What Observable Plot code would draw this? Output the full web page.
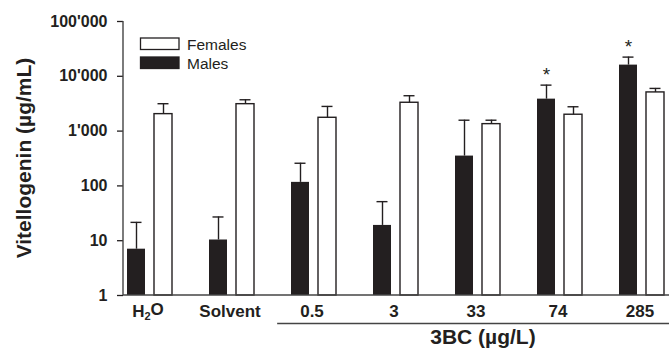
<!DOCTYPE html>
<html>
<head>
<meta charset="utf-8">
<script src="https://cdn.jsdelivr.net/npm/d3@7"></script>
<script src="https://cdn.jsdelivr.net/npm/@observablehq/plot@0.6"></script>
<style>
  body { margin: 0; background: #fff; }
  #chart { width: 669px; height: 356px; }
  #chart svg { overflow: visible; }
</style>
</head>
<body>
<div id="chart"></div>
<script>
// Treatment groups (controls, then 3BC exposure concentrations in µg/L)
const groups = ["H2O", "Solvent", "0.5", "3", "33", "74", "285"];
const sexes = ["Males", "Females"];

// Plasma vitellogenin, µg/mL (mean and upper end of error bar)
const maleMean    = [7.0, 10.3, 116, 19, 350, 3830, 16000];
const maleUpper   = [21.6, 27.1, 259, 51.6, 1580, 6900, 22400];
const femaleMean  = [2040, 3100, 1750, 3290, 1340, 1990, 5080];
const femaleUpper = [3160, 3730, 2820, 4420, 1580, 2780, 6010];
// Significant difference from controls (males)
const maleSignificant = [false, false, false, false, false, true, true];

const yTicks = [1, 10, 100, 1000, 10000, 100000];
const exposedGroups = ["0.5", "3", "33", "74", "285"];

const ink = "#231f20";
const font = "'Liberation Sans', Arial, Helvetica, sans-serif";

const data = groups.flatMap((g, i) => [
  {group: g, sex: "Males", value: maleMean[i], upper: maleUpper[i], sig: maleSignificant[i]},
  {group: g, sex: "Females", value: femaleMean[i], upper: femaleUpper[i], sig: false}
]);

const formatTick = d => d3.format(",")(d).replace(/,/g, "'");

const chart = Plot.plot({
  width: 669,
  height: 356,
  marginTop: 21,
  marginBottom: 61,
  marginLeft: 123,
  marginRight: 0,
  style: {fontFamily: font, fontSize: "16px", color: ink, background: "white"},
  fx: {domain: groups, paddingInner: 0.4, paddingOuter: 0.017, align: 0, label: null},
  x: {domain: sexes, paddingInner: 0.345, paddingOuter: 0.071, align: 1, axis: null},
  y: {type: "log", domain: [1, 100000], label: null},
  marks: [
    Plot.axisY(yTicks, {
      tickFormat: formatTick, tickSize: 6, tickPadding: 10,
      fontSize: 16, fontWeight: "bold", label: null, strokeWidth: 1.3
    }),
    Plot.axisFx({anchor: "bottom", tickSize: 0, tickPadding: 9, fontSize: 17, fontWeight: "bold", label: null}),
    // Males: solid bars
    Plot.barY(data, {
      filter: d => d.sex === "Males",
      fx: "group", x: "sex", y1: 1, y2: "value", fill: ink
    }),
    // Females: open bars
    Plot.barY(data, {
      filter: d => d.sex === "Females",
      fx: "group", x: "sex", y1: 1, y2: "value",
      fill: "white", stroke: ink, strokeWidth: 1.4
    }),
    // Upward error bars with caps
    Plot.ruleX(data, {fx: "group", x: "sex", y1: "value", y2: "upper", stroke: ink, strokeWidth: 1.4}),
    Plot.tickY(data, {fx: "group", x: "sex", y: "upper", insetLeft: 3.5, insetRight: 3.5, stroke: ink, strokeWidth: 1.4}),
    // Significance markers
    Plot.text(data, {
      filter: d => d.sig,
      fx: "group", x: "sex", y: "upper", text: () => "*",
      fontSize: 19, fill: ink, dy: -10
    })
  ]
});

document.getElementById("chart").appendChild(chart);

const svg = d3.select(chart);
const fx = chart.scale("fx");
const y = chart.scale("y");
const yBase = y.apply(1);
const yTop = y.apply(100000);
const left = 123, right = 669;

// Write the water label with a lowered subscript 2
svg.selectAll("text").filter(function () { return this.textContent === "H2O"; })
  .each(function () {
    const t = d3.select(this);
    t.text(null);
    t.append("tspan").text("H");
    t.append("tspan").attr("font-size", 11).attr("dy", "0.3em").text("2");
    t.append("tspan").attr("dy", "-0.3em").text("O");
  });

// Axis lines
svg.append("line")
  .attr("x1", left).attr("x2", left).attr("y1", yTop).attr("y2", yBase)
  .attr("stroke", "#444").attr("stroke-width", 1.4);
svg.append("line")
  .attr("x1", left).attr("x2", right).attr("y1", yBase).attr("y2", yBase)
  .attr("stroke", "#444").attr("stroke-width", 1.4);

// Bracket line under the 3BC exposure groups and its label
const bx1 = fx.apply(exposedGroups[0]) - 0.12 * fx.step;
const bxEnd = fx.apply(exposedGroups[exposedGroups.length - 1]) + 0.9 * fx.step;
svg.append("line")
  .attr("x1", bx1).attr("x2", right).attr("y1", yBase + 28.5).attr("y2", yBase + 28.5)
  .attr("stroke", "#444").attr("stroke-width", 1.4);
svg.append("text")
  .attr("x", (bx1 + bxEnd) / 2).attr("y", yBase + 49)
  .attr("text-anchor", "middle")
  .attr("font-family", font).attr("font-size", 21).attr("font-weight", "bold")
  .attr("fill", ink)
  .text("3BC (µg/L)");

// Y axis title
svg.append("text")
  .attr("transform", `translate(23,${(yTop + yBase) / 2}) rotate(-90)`)
  .attr("text-anchor", "middle").attr("dominant-baseline", "central")
  .attr("font-family", font).attr("font-size", 21).attr("font-weight", "bold")
  .attr("fill", ink)
  .text("Vitellogenin (µg/mL)");

// Legend
const legend = svg.append("g")
  .attr("font-family", font).attr("font-size", 15.5).attr("fill", ink)
  .attr("text-anchor", "start");
[
  {label: "Females", fill: "white", y: 38},
  {label: "Males", fill: ink, y: 57}
].forEach(item => {
  legend.append("rect")
    .attr("x", 140.5).attr("y", item.y).attr("width", 38.5).attr("height", 11.5)
    .attr("fill", item.fill).attr("stroke", ink).attr("stroke-width", 1.3);
  legend.append("text")
    .attr("x", 187).attr("y", item.y + 6).attr("dominant-baseline", "central")
    .text(item.label);
});
</script>
</body>
</html>
